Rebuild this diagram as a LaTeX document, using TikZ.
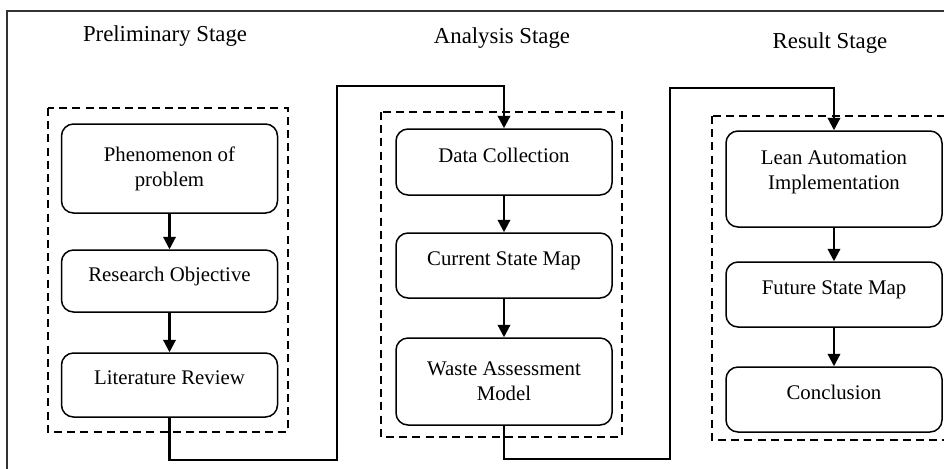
\documentclass[tikz,border=0pt]{standalone}
\usepackage{fontspec}
\setmainfont{Liberation Serif}
\usetikzlibrary{arrows.meta, positioning}

\tikzset{
    procbox/.style={draw, line width=0.75pt, rounded corners=6pt, minimum width=108pt,
        align=center, inner sep=2pt, font=\fontsize{10.4}{12.4}\selectfont},
    oneline/.style={procbox, text depth=7pt},
    stagetitle/.style={anchor=base, font=\fontsize{11.4}{13.5}\selectfont},
    stagebound/.style={line width=0.7pt, dash pattern=on 4pt off 2.6pt},
    flow/.style={line width=1.1pt, -{Triangle[width=6.2pt,length=6.2pt]}}
}

\begin{document}
\begin{tikzpicture}[x=0.5pt, y=-0.5pt]
    \clip (0,0) rectangle (944,468);
    \fill[white] (0,0) rectangle (944,468);
    \draw[line width=0.6pt, black!80] (7,480) |- (960,11);

    % stage titles
    \node[stagetitle] (tprelim) at (165,41) {Preliminary Stage};
    \node[stagetitle] (tanalysis) at (502,43) {Analysis Stage};
    \node[stagetitle] (tresult) at (830,48) {Result Stage};

    % dashed stage frames
    \draw[stagebound] (48,108) rectangle (288,432);
    \draw[stagebound] (381,112) rectangle (622,437);
    \draw[stagebound] (712,116) rectangle (960,440);

    % preliminary stage
    \node[procbox, minimum height=44.5pt] (phen) at (169.5,168.5) {Phenomenon of\\problem};
    \node[oneline, minimum height=31pt] (obj) at (169.5,281) {Research Objective};
    \node[oneline, minimum height=32pt] (lit) at (169.5,385) {Literature Review};

    % analysis stage
    \node[oneline, minimum height=33pt] (data) at (504,162) {Data Collection};
    \node[oneline, minimum height=32.5pt] (cur) at (504,265.5) {Current State Map};
    \node[procbox, minimum height=43.5pt] (waste) at (504,381.5) {Waste Assessment\\Model};

    % result stage
    \node[procbox, minimum height=48pt, text depth=9pt] (lean) at (834,179) {Lean Automation\\Implementation};
    \node[oneline, minimum height=32.5pt] (fut) at (834,294.5) {Future State Map};
    \node[oneline, minimum height=32.5pt] (concl) at (834,399.5) {Conclusion};

    \draw[flow] (phen) -- (obj);
    \draw[flow] (obj) -- (lit);
    \draw[flow] (data) -- (cur);
    \draw[flow] (cur) -- (waste);
    \draw[flow] (lean) -- (fut);
    \draw[flow] (fut) -- (concl);

    % links between stages
    \coordinate (low1) at (337,460);
    \coordinate (up1) at (337,86);
    \coordinate (low2) at (670,459);
    \coordinate (up2) at (670,88);
    \draw[flow] (lit.south) |- (low1) -- (up1) -| (data.north);
    \draw[flow] (waste.south) |- (low2) -- (up2) -| (lean.north);
\end{tikzpicture}
\end{document}
